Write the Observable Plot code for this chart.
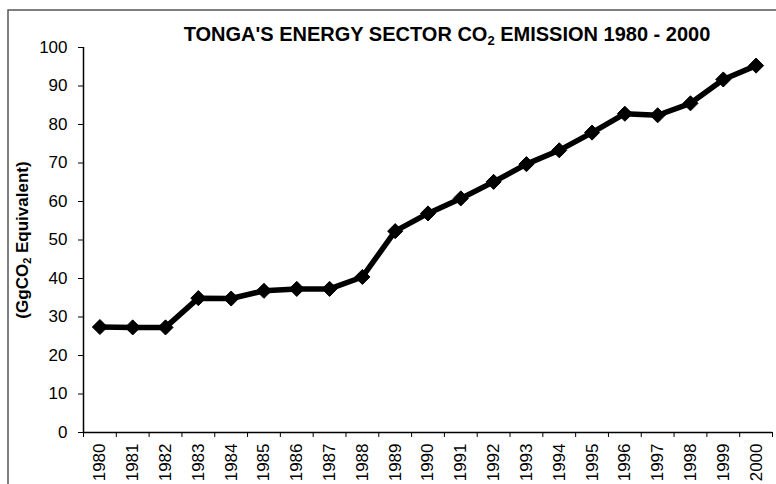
<!DOCTYPE html>
<html><head><meta charset="utf-8">
<script src="https://cdn.jsdelivr.net/npm/d3@7"></script>
<script src="https://cdn.jsdelivr.net/npm/@observablehq/plot@0.6"></script>
<style>body{margin:0;background:#fff;overflow:hidden} svg{display:block}</style>
</head><body><div id="chart"></div>
<script>
const years = [1980, 1981, 1982, 1983, 1984, 1985, 1986, 1987, 1988, 1989, 1990,
               1991, 1992, 1993, 1994, 1995, 1996, 1997, 1998, 1999, 2000];
const emissions = [27.4, 27.3, 27.3, 34.9, 34.8, 36.8, 37.3, 37.3, 40.4, 52.3, 56.9,
                   60.8, 65.1, 69.7, 73.3, 77.9, 82.8, 82.4, 85.5, 91.7, 95.3];
const yTicks = [0, 10, 20, 30, 40, 50, 60, 70, 80, 90, 100];
const titleParts = ["TONGA'S ENERGY SECTOR CO", "2", " EMISSION 1980 - 2000"];
const yLabelParts = ["(GgCO", "2", " Equivalent)"];

const data = years.map((year, i) => ({year, value: emissions[i]}));
const bounds = [...years.map(y => y - 0.5), years[years.length - 1] + 0.5];

const plot = Plot.plot({
  width: 776, height: 484,
  marginLeft: 83, marginRight: 4, marginTop: 47, marginBottom: 52,
  style: {fontFamily: "'Liberation Sans', Arial, sans-serif", background: "#fff", overflow: "visible", color: "#000"},
  x: {type: "linear", domain: [bounds[0], bounds[bounds.length - 1]]},
  y: {domain: [0, 100]},
  marks: [
    Plot.axisY({ticks: yTicks, tickSize: 5, tickPadding: 11, fontSize: 17, label: null, tickFormat: d => String(d)}),
    Plot.axisX({ticks: bounds, tickSize: 5, tickFormat: () => "", label: null}),
    Plot.axisX({ticks: years, tickSize: 0, tickRotate: -90, tickPadding: 11, fontSize: 17, tickFormat: d => String(d), label: null}),
    Plot.ruleX([bounds[0]], {strokeWidth: 1.5}),
    Plot.ruleY([0], {strokeWidth: 1.5}),
    Plot.line(data, {x: "year", y: "value", stroke: "black", strokeWidth: 5.5}),
    Plot.dot(data, {x: "year", y: "value", symbol: "diamond2", r: 6.8, fill: "black", stroke: "black", strokeWidth: 1})
  ]
});
document.getElementById("chart").appendChild(plot);

const svg = d3.select(plot);
svg.insert("rect", ":first-child")
  .attr("x", 8).attr("y", 10).attr("width", 800).attr("height", 500)
  .attr("fill", "none").attr("stroke", "#555").attr("stroke-width", 1.5);

const title = svg.append("text")
  .attr("x", 447).attr("y", 41)
  .attr("text-anchor", "middle")
  .attr("font-family", "'Liberation Sans', Arial, sans-serif")
  .attr("font-weight", "bold").attr("font-size", 20).attr("fill", "#000");
title.append("tspan").text(titleParts[0]);
title.append("tspan").attr("font-size", 13).attr("dy", 4).text(titleParts[1]);
title.append("tspan").attr("dy", -4).text(titleParts[2]);

const ylab = svg.append("text")
  .attr("transform", "translate(28,240) rotate(-90)")
  .attr("text-anchor", "middle")
  .attr("font-family", "'Liberation Sans', Arial, sans-serif")
  .attr("font-weight", "bold").attr("font-size", 17).attr("fill", "#000");
ylab.append("tspan").text(yLabelParts[0]);
ylab.append("tspan").attr("font-size", 11).attr("dy", 3).text(yLabelParts[1]);
ylab.append("tspan").attr("dy", -3).text(yLabelParts[2]);
</script>
</body></html>
